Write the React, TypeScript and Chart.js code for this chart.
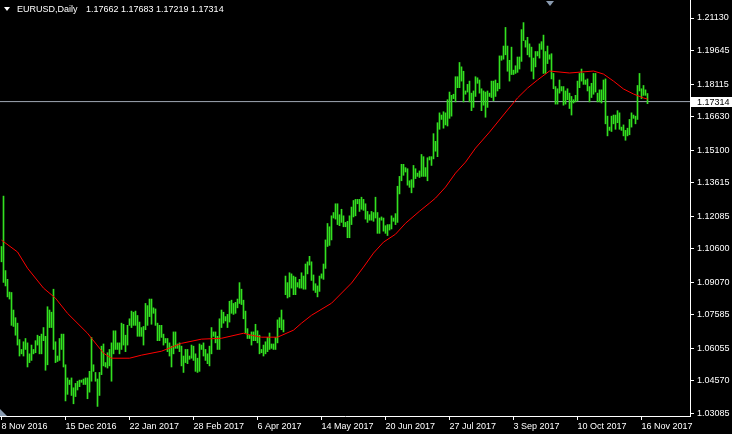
import React, { useEffect, useRef } from "react";
import { Chart, registerables } from "chart.js";

Chart.register(...registerables);

const symbolTitle = "EURUSD,Daily";
const lastOHLC = ["1.17662", "1.17683", "1.17219", "1.17314"];
const bidPrice = 1.17314;

const xTickIndex = [0, 32, 64, 96, 128, 160, 192, 224, 256, 288, 320];
const xTickLabels = [
  "8 Nov 2016", "15 Dec 2016", "22 Jan 2017", "28 Feb 2017", "6 Apr 2017", "14 May 2017",
  "20 Jun 2017", "27 Jul 2017", "3 Sep 2017", "10 Oct 2017", "16 Nov 2017",
];
const yTickValues = [
  1.2113, 1.19645, 1.18115, 1.1663, 1.151, 1.13615, 1.12085, 1.106, 1.0907, 1.07585, 1.06055, 1.0457, 1.03085,
];

const barHigh = [
  1.1070, 1.1300, 1.0960, 1.0920, 1.0862, 1.0860, 1.0780, 1.0745, 1.0720, 1.0645,
  1.0600, 1.0635, 1.0650, 1.0630, 1.0580, 1.0620, 1.0600, 1.0640, 1.0665, 1.0660,
  1.0670, 1.0700, 1.0660, 1.0795, 1.0780, 1.0770, 1.0875, 1.0635, 1.0570, 1.0650,
  1.0670, 1.0670, 1.0530, 1.0470, 1.0460, 1.0470, 1.0425, 1.0445, 1.0455, 1.0460,
  1.0460, 1.0465, 1.0470, 1.0470, 1.0500, 1.0655, 1.0530, 1.0495, 1.0465, 1.0495,
  1.0615, 1.0625, 1.0540, 1.0585, 1.0600, 1.0630, 1.0685, 1.0685, 1.0630, 1.0630,
  1.0720, 1.0715, 1.0665, 1.0710, 1.0740, 1.0775, 1.0770, 1.0775, 1.0755, 1.0725,
  1.0700, 1.0705, 1.0810, 1.0800, 1.0830, 1.0830, 1.0790, 1.0785, 1.0720, 1.0710,
  1.0710, 1.0670, 1.0650, 1.0650, 1.0630, 1.0615, 1.0680, 1.0680, 1.0625, 1.0630,
  1.0615, 1.0570, 1.0600, 1.0600, 1.0570, 1.0620, 1.0615, 1.0580, 1.0560, 1.0625,
  1.0620, 1.0630, 1.0600, 1.0580, 1.0615, 1.0700, 1.0680, 1.0680, 1.0660, 1.0740,
  1.0780, 1.0770, 1.0750, 1.0760, 1.0820, 1.0825, 1.0810, 1.0815, 1.0830, 1.0905,
  1.0875, 1.0825, 1.0775, 1.0695, 1.0665, 1.0680, 1.0680, 1.0715, 1.0685, 1.0665,
  1.0600, 1.0620, 1.0635, 1.0655, 1.0675, 1.0625, 1.0625, 1.0655, 1.0735, 1.0745,
  1.0780, 1.0735, 1.0935, 1.0905, 1.0950, 1.0945, 1.0935, 1.0930, 1.0905, 1.0920,
  1.0950, 1.0935, 1.0990, 1.1000, 1.1025, 1.1000, 1.0940, 1.0900, 1.0890, 1.0935,
  1.0945, 1.0990, 1.1100, 1.1175, 1.1160, 1.1210, 1.1225, 1.1265, 1.1265, 1.1215,
  1.1240, 1.1210, 1.1180, 1.1185, 1.1210, 1.1250, 1.1280, 1.1285, 1.1285, 1.1285,
  1.1295, 1.1285, 1.1265, 1.1230, 1.1215, 1.1230, 1.1225, 1.1295, 1.1225, 1.1200,
  1.1205, 1.1200, 1.1165, 1.1170, 1.1170, 1.1210, 1.1200, 1.1220, 1.1345, 1.1390,
  1.1445, 1.1445, 1.1430, 1.1425, 1.1370, 1.1375, 1.1440, 1.1425, 1.1405, 1.1415,
  1.1490, 1.1480, 1.1430, 1.1475, 1.1480, 1.1480, 1.1585, 1.1550, 1.1635, 1.1680,
  1.1670, 1.1685, 1.1680, 1.1740, 1.1775, 1.1760, 1.1765, 1.1845, 1.1845, 1.1910,
  1.1890, 1.1870, 1.1780, 1.1810, 1.1825, 1.1770, 1.1780, 1.1845, 1.1840, 1.1830,
  1.1790, 1.1780, 1.1775, 1.1780, 1.1770, 1.1825, 1.1825, 1.1830, 1.1815, 1.1940,
  1.1940, 1.1985, 1.2070, 1.1985, 1.1920, 1.1980, 1.1875, 1.1895, 1.1935, 1.1935,
  1.2060, 1.2092, 1.2010, 1.2025, 1.1995, 1.1980, 1.1930, 1.1960, 1.1960, 1.1995,
  1.2005, 1.2035, 1.1960, 1.1985, 1.1945, 1.1950, 1.1860, 1.1800, 1.1790, 1.1830,
  1.1800, 1.1800, 1.1780, 1.1790, 1.1770, 1.1755, 1.1740, 1.1760, 1.1825, 1.1860,
  1.1880, 1.1860, 1.1830, 1.1835, 1.1800, 1.1815, 1.1860, 1.1860, 1.1770, 1.1785,
  1.1785, 1.1830, 1.1835, 1.1665, 1.1615, 1.1665, 1.1670, 1.1670, 1.1690, 1.1680,
  1.1615, 1.1625, 1.1600, 1.1610, 1.1650, 1.1680, 1.1670, 1.1665, 1.1805, 1.1860,
  1.1790, 1.1805, 1.1785, 1.17683,
];

const barLow = [
  1.1000, 1.0906, 1.0890, 1.0840, 1.0830, 1.0710, 1.0705, 1.0665, 1.0620, 1.0570,
  1.0580, 1.0570, 1.0600, 1.0520, 1.0540, 1.0550, 1.0580, 1.0585, 1.0620, 1.0580,
  1.0580, 1.0640, 1.0505, 1.0530, 1.0700, 1.0700, 1.0600, 1.0540, 1.0545, 1.0550,
  1.0600, 1.0520, 1.0365, 1.0395, 1.0440, 1.0390, 1.0352, 1.0385, 1.0415, 1.0430,
  1.0450, 1.0440, 1.0440, 1.0375, 1.0405, 1.0455, 1.0500, 1.0455, 1.0340, 1.0390,
  1.0485, 1.0525, 1.0520, 1.0515, 1.0525, 1.0455, 1.0580, 1.0600, 1.0600, 1.0580,
  1.0600, 1.0620, 1.0590, 1.0620, 1.0710, 1.0700, 1.0710, 1.0710, 1.0660, 1.0660,
  1.0660, 1.0620, 1.0690, 1.0710, 1.0750, 1.0715, 1.0765, 1.0710, 1.0640, 1.0640,
  1.0655, 1.0620, 1.0630, 1.0590, 1.0570, 1.0520, 1.0580, 1.0605, 1.0605, 1.0590,
  1.0525, 1.0495, 1.0540, 1.0535, 1.0555, 1.0560, 1.0550, 1.0500, 1.0495, 1.0500,
  1.0600, 1.0570, 1.0550, 1.0535, 1.0525, 1.0580, 1.0660, 1.0630, 1.0600, 1.0600,
  1.0700, 1.0720, 1.0730, 1.0700, 1.0725, 1.0765, 1.0760, 1.0765, 1.0790, 1.0810,
  1.0805, 1.0740, 1.0675, 1.0650, 1.0650, 1.0620, 1.0640, 1.0640, 1.0630, 1.0580,
  1.0585, 1.0570, 1.0580, 1.0590, 1.0600, 1.0605, 1.0600, 1.0600, 1.0630, 1.0700,
  1.0690, 1.0680, 1.0850, 1.0835, 1.0840, 1.0880, 1.0850, 1.0850, 1.0885, 1.0880,
  1.0880, 1.0875, 1.0875, 1.0945, 1.0985, 1.0915, 1.0870, 1.0860, 1.0840, 1.0865,
  1.0925, 1.0920, 1.0970, 1.1070, 1.1075, 1.1100, 1.1200, 1.1195, 1.1170, 1.1165,
  1.1180, 1.1160, 1.1160, 1.1110, 1.1110, 1.1170, 1.1205, 1.1210, 1.1265, 1.1230,
  1.1240, 1.1235, 1.1195, 1.1180, 1.1190, 1.1190, 1.1185, 1.1200, 1.1130, 1.1130,
  1.1190, 1.1140, 1.1130, 1.1120, 1.1145, 1.1150, 1.1185, 1.1170, 1.1180, 1.1310,
  1.1370, 1.1395, 1.1410, 1.1350, 1.1340, 1.1315, 1.1340, 1.1380, 1.1390, 1.1385,
  1.1390, 1.1390, 1.1390, 1.1370, 1.1465, 1.1440, 1.1470, 1.1505, 1.1480, 1.1605,
  1.1650, 1.1610, 1.1625, 1.1620, 1.1655, 1.1665, 1.1745, 1.1730, 1.1795, 1.1795,
  1.1825, 1.1730, 1.1765, 1.1775, 1.1730, 1.1690, 1.1705, 1.1755, 1.1815, 1.1770,
  1.1690, 1.1715, 1.1660, 1.1705, 1.1755, 1.1750, 1.1735, 1.1755, 1.1780, 1.1790,
  1.1920, 1.1925, 1.1945, 1.1870, 1.1825, 1.1855, 1.1855, 1.1860, 1.1865, 1.1880,
  1.1915, 1.2010, 1.1980, 1.1945, 1.1935, 1.1870, 1.1835, 1.1890, 1.1940, 1.1930,
  1.1970, 1.1860, 1.1860, 1.1905, 1.1925, 1.1835, 1.1790, 1.1720, 1.1720, 1.1770,
  1.1780, 1.1715, 1.1720, 1.1740, 1.1700, 1.1670, 1.1725, 1.1730, 1.1735, 1.1795,
  1.1825, 1.1810, 1.1810, 1.1780, 1.1730, 1.1750, 1.1765, 1.1775, 1.1730, 1.1730,
  1.1725, 1.1740, 1.1630, 1.1575, 1.1600, 1.1595, 1.1630, 1.1605, 1.1635, 1.1605,
  1.1600, 1.1575, 1.1555, 1.1575, 1.1580, 1.1615, 1.1655, 1.1630, 1.1650, 1.1780,
  1.1745, 1.1760, 1.1760, 1.17219,
];

const maIndex = [
  0, 8, 13, 21, 27, 33, 43, 51, 55, 64, 70, 80, 90, 100, 110, 121, 125, 130, 138, 146,
  150, 155, 165, 175, 181, 186, 191, 197, 202, 209, 214, 217, 222, 227, 232, 237, 244,
  253, 258, 263, 268, 274, 284, 296, 301, 306, 311, 316, 321, 323,
];
const maValue = [
  1.1099, 1.1045, 1.0971, 1.0880, 1.0834, 1.0765, 1.0674, 1.0583, 1.0560, 1.0560, 1.0574,
  1.0592, 1.0628, 1.0647, 1.0651, 1.0674, 1.0665, 1.0656, 1.0656, 1.0688, 1.0720, 1.0756,
  1.0811, 1.0903, 1.0976, 1.1040, 1.1090, 1.1126, 1.1176, 1.1231, 1.1268, 1.1291, 1.1341,
  1.1405, 1.1455, 1.1519, 1.1592, 1.1693, 1.1748, 1.1793, 1.1830, 1.1871, 1.1862, 1.1871,
  1.1857, 1.1825, 1.1789, 1.1766, 1.1748, 1.1743,
];

const FONT = "'Liberation Sans', Arial, sans-serif";
const BAR_COLOR = "#33e020";
const MA_COLOR = "#ff0000";
const BID_COLOR = "#a0a8b4";
const MARKER_COLOR = "#8a9bb0";

const overlayPlugin = {
  id: "mt4overlay",
  afterDraw(chart: any) {
    const ctx = chart.ctx as CanvasRenderingContext2D;
    const area = chart.chartArea;
    const yScale = chart.scales.y;
    ctx.save();
    ctx.fillStyle = "#ffffff";
    ctx.beginPath();
    ctx.moveTo(4, 7);
    ctx.lineTo(10, 7);
    ctx.lineTo(7, 11);
    ctx.closePath();
    ctx.fill();
    ctx.font = `9px ${FONT}`;
    ctx.textBaseline = "middle";
    ctx.textAlign = "left";
    ctx.fillText(symbolTitle, 17, 10);
    ctx.fillText(lastOHLC.join(" "), 86, 10);
    const py = Math.floor(yScale.getPixelForValue(bidPrice));
    ctx.fillStyle = "#ffffff";
    ctx.fillRect(area.right + 1, py - 4, chart.width - area.right - 1, 10);
    ctx.fillStyle = "#000000";
    ctx.fillText(bidPrice.toFixed(5), area.right + 7, py + 1.5);
    ctx.fillStyle = MARKER_COLOR;
    ctx.beginPath();
    ctx.moveTo(546, 1);
    ctx.lineTo(554, 1);
    ctx.lineTo(550, 6);
    ctx.closePath();
    ctx.fill();
    ctx.beginPath();
    ctx.moveTo(0, area.bottom - 7);
    ctx.lineTo(7, area.bottom);
    ctx.lineTo(0, area.bottom);
    ctx.closePath();
    ctx.fill();
    ctx.restore();
  },
};

export default function App() {
  const canvasRef = useRef<HTMLCanvasElement | null>(null);

  useEffect(() => {
    document.body.style.margin = "0";
    document.body.style.background = "#000";
    const canvas = canvasRef.current;
    if (!canvas) return;

    const bars = barHigh.map((h, i) => ({ x: i, y: [barLow[i], h] }));
    const ma = maIndex.map((x, k) => ({ x, y: maValue[k] }));
    const xMin = -0.75;
    const xMax = xMin + 690 / 2;

    const chart = new Chart(canvas, {
      type: "bar",
      data: {
        datasets: [
          {
            type: "line",
            data: [
              { x: xMin, y: bidPrice },
              { x: xMax, y: bidPrice },
            ],
            borderColor: BID_COLOR,
            borderWidth: 1,
            pointRadius: 0,
            order: 3,
          } as any,
          {
            type: "bar",
            data: bars as any,
            backgroundColor: BAR_COLOR,
            borderWidth: 0,
            barThickness: 1,
            grouped: false,
            order: 2,
          } as any,
          {
            type: "line",
            data: ma,
            borderColor: MA_COLOR,
            borderWidth: 1,
            pointRadius: 0,
            tension: 0,
            order: 1,
          } as any,
        ],
      },
      options: {
        responsive: false,
        animation: false,
        devicePixelRatio: 1,
        layout: { padding: 0 },
        plugins: { legend: { display: false }, tooltip: { enabled: false }, title: { display: false } },
        scales: {
          x: {
            type: "linear",
            min: xMin,
            max: xMax,
            offset: false,
            position: "bottom",
            afterBuildTicks: (s: any) => {
              s.ticks = xTickIndex.map((v) => ({ value: v }));
            },
            afterFit: (s: any) => {
              s.height = 18;
              s.paddingLeft = 0;
              s.paddingRight = 0;
            },
            ticks: {
              autoSkip: false,
              maxRotation: 0,
              minRotation: 0,
              align: "start",
              color: "#ffffff",
              padding: 1,
              font: { family: FONT, size: 9 },
              callback: (_v: any, i: number) => xTickLabels[i],
            },
            grid: { offset: false, drawOnChartArea: false, drawTicks: true, tickLength: 4, color: "#ffffff", lineWidth: 1 },
            border: { display: true, color: "#ffffff", width: 1 },
          },
          y: {
            type: "linear",
            position: "right",
            min: 1.02962,
            max: 1.21952,
            afterBuildTicks: (s: any) => {
              s.ticks = yTickValues.map((v) => ({ value: v }));
            },
            afterFit: (s: any) => {
              s.width = 42;
              s.paddingTop = 0;
              s.paddingBottom = 0;
            },
            ticks: {
              autoSkip: false,
              color: "#ffffff",
              padding: 3,
              font: { family: FONT, size: 9 },
              callback: (v: any) => Number(v).toFixed(5),
            },
            grid: { drawOnChartArea: false, drawTicks: true, tickLength: 4, color: "#ffffff", lineWidth: 1 },
            border: { display: true, color: "#ffffff", width: 1 },
          },
        },
      } as any,
      plugins: [overlayPlugin],
    });
    return () => chart.destroy();
  }, []);

  return (
    <div style={{ position: "absolute", left: 0, top: 0, width: 732, height: 434, background: "#000" }}>
      <canvas ref={canvasRef} width={732} height={434} style={{ display: "block" }} />
    </div>
  );
}
